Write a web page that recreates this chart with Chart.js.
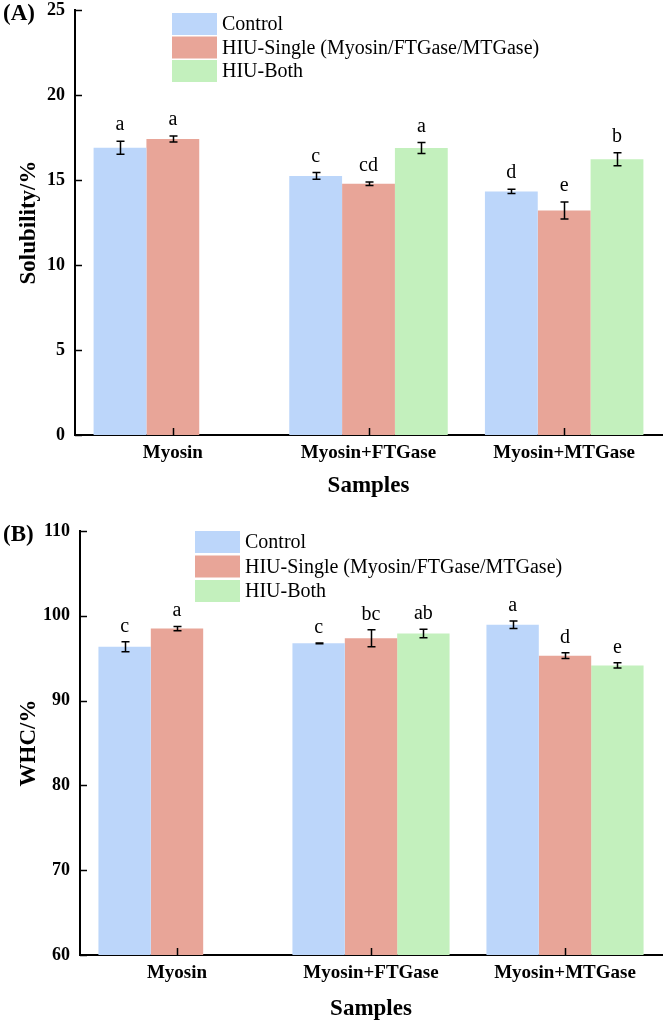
<!DOCTYPE html>
<html>
<head>
<meta charset="utf-8">
<script src="https://cdn.jsdelivr.net/npm/chart.js@4.4.1/dist/chart.umd.min.js"></script>
<style>
  body { margin: 0; background: #fff; }
  canvas { display: block; }
</style>
</head>
<body>
<canvas id="solubilityChart" width="663" height="500"></canvas>
<canvas id="whcChart" width="663" height="523"></canvas>
<script>
// Dados
const categories = ['Myosin', 'Myosin+FTGase', 'Myosin+MTGase'];
const seriesNames = ['Control', 'HIU-Single (Myosin/FTGase/MTGase)', 'HIU-Both'];
const seriesColors = ['#bcd6fa', '#e8a598', '#c3f0bd'];

// (A) Solubility
const solControl = [16.9, 15.24, 14.33];
const solSingle = [17.41, 14.78, 13.2];
const solBoth = [null, 16.88, 16.22];
const solControlErr = [0.38, 0.2, 0.12];
const solSingleErr = [0.18, 0.1, 0.5];
const solBothErr = [null, 0.32, 0.38];
const solControlLetters = ['a', 'c', 'd'];
const solSingleLetters = ['a', 'cd', 'e'];
const solBothLetters = [null, 'a', 'b'];
const solTicks = [0, 5, 10, 15, 20, 25];

// (B) WHC
const whcControl = [96.35, 96.75, 98.95];
const whcSingle = [98.5, 97.35, 95.3];
const whcBoth = [null, 97.9, 94.15];
const whcControlErr = [0.6, 0.05, 0.45];
const whcSingleErr = [0.25, 1.0, 0.35];
const whcBothErr = [null, 0.5, 0.3];
const whcControlLetters = ['c', 'c', 'a'];
const whcSingleLetters = ['a', 'bc', 'd'];
const whcBothLetters = [null, 'ab', 'e'];
const whcTicks = [60, 70, 80, 90, 100, 110];

const SERIF = '"Liberation Serif", "Times New Roman", serif';

// Barras de erro, letras, ticks internos, legenda e rótulo do painel
const decorPlugin = {
    id: 'decor',
    afterDatasetsDraw(chart, args, opts) {
        const ctx = chart.ctx;
        const xs = chart.scales.x, ys = chart.scales.y;
        const area = chart.chartArea;
        ctx.save();
        ctx.strokeStyle = '#000';
        ctx.fillStyle = '#000';
        ctx.lineWidth = 1.5;

        // ticks voltados para dentro
        ys.ticks.forEach((t, i) => {
            const py = Math.round(ys.getPixelForTick(i)) + 0.5;
            ctx.beginPath(); ctx.moveTo(area.left, py); ctx.lineTo(area.left + 7, py); ctx.stroke();
        });
        xs.ticks.forEach((t, i) => {
            const px = Math.round(xs.getPixelForTick(i)) + 0.5;
            ctx.beginPath(); ctx.moveTo(px, area.bottom); ctx.lineTo(px, area.bottom - 7); ctx.stroke();
        });

        // barras de erro + letras
        ctx.font = '20px ' + SERIF;
        ctx.textAlign = 'center';
        ctx.textBaseline = 'alphabetic';
        chart.data.datasets.forEach((ds, di) => {
            const meta = chart.getDatasetMeta(di);
            meta.data.forEach((bar, i) => {
                const v = ds.data[i];
                if (v == null) return;
                const e = opts.errors[di][i];
                const px = Math.round(bar.x) + 0.5;
                const top = ys.getPixelForValue(v + e);
                const bot = ys.getPixelForValue(v - e);
                ctx.beginPath();
                ctx.moveTo(px, top); ctx.lineTo(px, bot);
                ctx.moveTo(px - 4, top); ctx.lineTo(px + 4, top);
                ctx.moveTo(px - 4, bot); ctx.lineTo(px + 4, bot);
                ctx.stroke();
                const letter = opts.letters[di][i];
                if (letter) ctx.fillText(letter, bar.x, top - opts.letterGap);
            });
        });

        // legenda
        const lg = opts.legend;
        ctx.font = '20px ' + SERIF;
        ctx.textAlign = 'left';
        ctx.textBaseline = 'middle';
        chart.data.datasets.forEach((ds, di) => {
            const by = area.top + lg.dy + di * lg.pitch;
            ctx.fillStyle = ds.backgroundColor;
            ctx.fillRect(area.left + lg.dx, by, 45, 22);
            ctx.fillStyle = '#000';
            ctx.fillText(ds.label, area.left + lg.dx + 50, by + 12);
        });

        // (A) / (B)
        ctx.font = 'bold 23px ' + SERIF;
        ctx.fillText(opts.panel, 3, area.top + 4);
        ctx.restore();
    }
};

function makeChart(id, opts) {
    const ctx = document.getElementById(id);
    return new Chart(ctx, {
        type: 'bar',
        data: {
            labels: categories,
            datasets: opts.series.map((d, i) => ({
                label: seriesNames[i],
                data: d,
                backgroundColor: seriesColors[i],
                borderWidth: 0,
                barPercentage: 1,
                categoryPercentage: 0.81
            }))
        },
        options: {
            responsive: false,
            animation: false,
            layout: { padding: { top: opts.top, right: 1, left: 0, bottom: 0 } },
            scales: {
                x: {
                    grid: { display: false, drawTicks: false },
                    border: { display: true, color: '#000', width: 2 },
                    ticks: { color: '#000', padding: 7, font: { family: SERIF, size: 19, weight: 'bold' } },
                    title: {
                        display: true, text: 'Samples', color: '#000',
                        font: { family: SERIF, size: 23, weight: 'bold' },
                        padding: { top: 0, bottom: opts.xTitlePad }
                    },
                    afterFit: s => { s.height = opts.xHeight; s.paddingLeft = 0; s.paddingRight = 0; }
                },
                y: {
                    min: opts.ticks[0],
                    max: opts.ticks[opts.ticks.length - 1],
                    afterBuildTicks: s => { s.ticks = opts.ticks.map(v => ({ value: v })); },
                    grid: { display: false, drawTicks: false },
                    border: { display: true, color: '#000', width: 2 },
                    ticks: { color: '#000', padding: 10, font: { family: SERIF, size: 18, weight: 'bold' } },
                    title: {
                        display: true, text: opts.yTitle, color: '#000',
                        font: { family: SERIF, size: 23, weight: 'bold' },
                        padding: { top: 15, bottom: 0 }
                    },
                    afterFit: s => { s.width = opts.yWidth; s.paddingTop = 0; s.paddingBottom = 0; }
                }
            },
            plugins: {
                legend: { display: false },
                tooltip: { enabled: false },
                decor: {
                    errors: opts.errors,
                    letters: opts.letters,
                    letterGap: opts.letterGap,
                    legend: opts.legend,
                    panel: opts.panel
                }
            }
        },
        plugins: [decorPlugin]
    });
}

makeChart('solubilityChart', {
    series: [solControl, solSingle, solBoth],
    errors: [solControlErr, solSingleErr, solBothErr],
    letters: [solControlLetters, solSingleLetters, solBothLetters],
    ticks: solTicks,
    yTitle: 'Solubility/%',
    panel: '(A)',
    top: 10, yWidth: 75, xHeight: 65, xTitlePad: 0,
    letterGap: 11,
    legend: { dx: 97, dy: 3, pitch: 23.5 }
});

makeChart('whcChart', {
    series: [whcControl, whcSingle, whcBoth],
    errors: [whcControlErr, whcSingleErr, whcBothErr],
    letters: [whcControlLetters, whcSingleLetters, whcBothLetters],
    ticks: whcTicks,
    yTitle: 'WHC/%',
    panel: '(B)',
    top: 31, yWidth: 80, xHeight: 68, xTitlePad: 0,
    letterGap: 10,
    legend: { dx: 115, dy: 0, pitch: 24.5 }
});
</script>
</body>
</html>
